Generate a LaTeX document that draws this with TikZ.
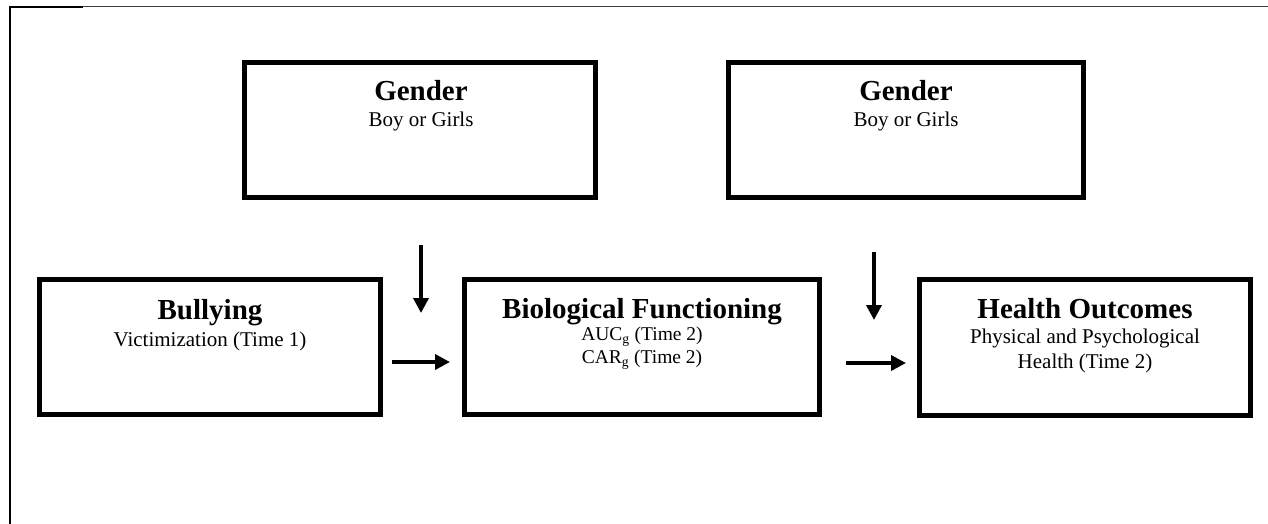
\documentclass[tikz,border=0pt]{standalone}
\usepackage{fontspec}
\setmainfont{Liberation Serif}
\usetikzlibrary{arrows.meta}
\tikzset{
  box/.style={draw=black, line width=5pt, fill=white, inner sep=0pt},
  ttl/.style={anchor=base, inner sep=0pt, font=\fontsize{29}{34}\selectfont\bfseries},
  sub/.style={anchor=base, inner sep=0pt, font=\fontsize{21}{25}\selectfont},
  subs/.style={anchor=base, inner sep=0pt, font=\fontsize{19.5}{23}\selectfont},
  arr/.style={line width=3.5pt, -{Triangle[length=15pt,width=15pt]}},
}
\begin{document}
\begin{tikzpicture}[x=1pt,y=-1pt]
\useasboundingbox (0,0) rectangle (1268,524);
% frame
\draw[line width=1.2pt, draw=black!75] (9,6.5) -- (1268,6.5);
\draw[line width=2pt] (9,7) -- (83,7);
\draw[line width=2pt] (10,6) -- (10,524);
% boxes
\node[box, minimum width=351pt, minimum height=135pt] (g1) at (420,130) {};
\node[box, minimum width=355pt, minimum height=135pt] (g2) at (906,130) {};
\node[box, minimum width=341pt, minimum height=135pt] (bully) at (210,347) {};
\node[box, minimum width=355pt, minimum height=135pt] (bio) at (642,347) {};
\node[box, minimum width=331pt, minimum height=136pt] (health) at (1085,347.5) {};
% texts
\node[ttl] (g1t) at (421,101) {Gender};
\node[sub] (g1s) at (421,127) {Boy or Girls};
\node[ttl] (g2t) at (906,101) {Gender};
\node[sub] (g2s) at (906,127) {Boy or Girls};
\node[ttl] (bt) at (210,319) {Bullying};
\node[sub] (bs) at (210,346) {Victimization (Time 1)};
\node[ttl] (biot) at (642,318) {Biological Functioning};
\node[subs] (bios1) at (642,340) {AUC\textsubscript{g} (Time 2)};
\node[subs] (bios2) at (642,363) {CAR\textsubscript{g} (Time 2)};
\node[ttl] (ht) at (1085,318) {Health Outcomes};
\node[sub] (hs1) at (1085,343) {Physical and Psychological};
\node[sub] (hs2) at (1085,368) {Health (Time 2)};
% arrows
\coordinate (v1s) at (421,245); \coordinate (v1e) at (421,313);
\coordinate (v2s) at (874,252); \coordinate (v2e) at (874,320);
\coordinate (h1s) at (392,362); \coordinate (h1e) at (450,362);
\coordinate (h2s) at (846,363); \coordinate (h2e) at (906,363);
\draw[arr] (v1s) -- (v1e);
\draw[arr] (v2s) -- (v2e);
\draw[arr] (h1s) -- (h1e);
\draw[arr] (h2s) -- (h2e);
\end{tikzpicture}
\end{document}
